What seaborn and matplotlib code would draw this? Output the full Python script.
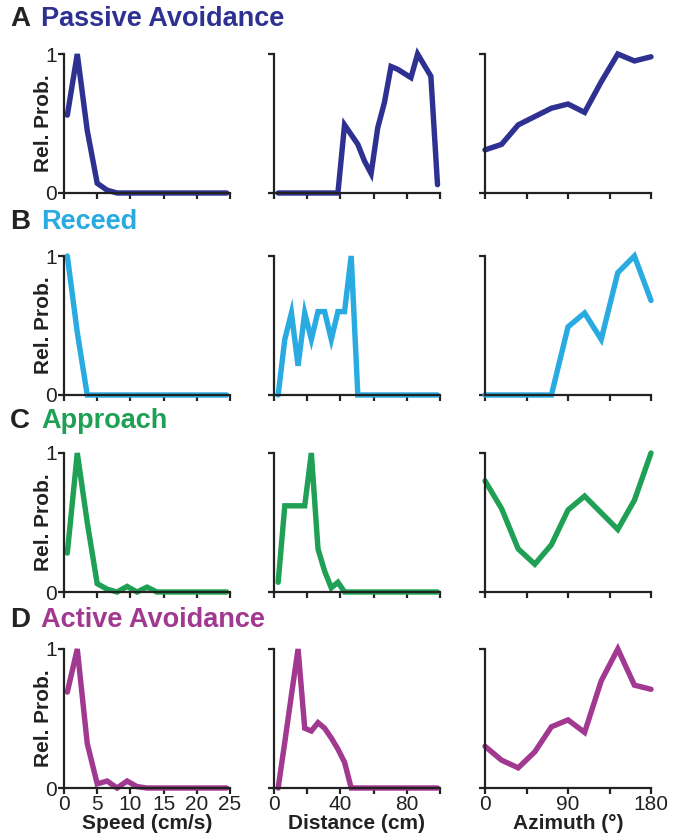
import numpy as np
import seaborn as sns
import matplotlib.pyplot as plt

# bin centres
speed_bins = [0.5, 2.0, 3.5, 5.0, 6.5, 8.0, 9.5, 11.0, 12.5, 14.0, 15.5, 17.0, 18.5, 20.0, 21.5, 23.0, 24.5]
dist_bins = [2.5, 6.5, 10.5, 14.5, 18.5, 22.5, 26.5, 30.5, 34.5, 38.5, 42.5, 46.5, 50.5,
             54.5, 58.5, 62.5, 66.5, 70.5, 74.5, 78.5, 82.5, 86.5, 90.5, 94.5, 98.5]
azim_bins = [0, 18, 36, 54, 72, 90, 108, 126, 144, 162, 180]

# A - Passive Avoidance
passive_speed = [0.56, 1.0, 0.45, 0.07, 0.02, 0, 0, 0, 0, 0, 0, 0, 0, 0, 0, 0, 0]
passive_dist = [0, 0, 0, 0, 0, 0, 0, 0, 0, 0, 0.49, 0.42, 0.35, 0.23, 0.14, 0.47,
                0.65, 0.91, 0.89, 0.86, 0.83, 1.0, 0.92, 0.84, 0.06]
passive_azim = [0.31, 0.35, 0.49, 0.55, 0.61, 0.64, 0.58, 0.80, 1.0, 0.95, 0.98]

# B - Receed
receed_speed = [1.0, 0.45, 0, 0, 0, 0, 0, 0, 0, 0, 0, 0, 0, 0, 0, 0, 0]
receed_dist = [0, 0.40, 0.59, 0.21, 0.59, 0.40, 0.60, 0.60, 0.40, 0.60, 0.60, 1.0, 0,
               0, 0, 0, 0, 0, 0, 0, 0, 0, 0, 0, 0]
receed_azim = [0, 0, 0, 0, 0, 0.49, 0.59, 0.40, 0.88, 1.0, 0.68]

# C - Approach
approach_speed = [0.28, 1.0, 0.5, 0.06, 0.02, 0, 0.04, 0, 0.035, 0, 0, 0, 0, 0, 0, 0, 0]
approach_dist = [0.07, 0.62, 0.62, 0.62, 0.62, 1.0, 0.31, 0.15, 0.03, 0.07, 0, 0, 0,
                 0, 0, 0, 0, 0, 0, 0, 0, 0, 0, 0, 0]
approach_azim = [0.80, 0.60, 0.31, 0.20, 0.34, 0.59, 0.69, 0.57, 0.45, 0.66, 1.0]

# D - Active Avoidance
active_speed = [0.69, 1.0, 0.32, 0.03, 0.05, 0, 0.05, 0.01, 0, 0, 0, 0, 0, 0, 0, 0, 0]
active_dist = [0, 0.33, 0.67, 1.0, 0.43, 0.41, 0.47, 0.43, 0.36, 0.28, 0.185, 0, 0,
               0, 0, 0, 0, 0, 0, 0, 0, 0, 0, 0, 0]
active_azim = [0.30, 0.20, 0.145, 0.26, 0.44, 0.49, 0.40, 0.77, 1.0, 0.74, 0.71]

letters = ['A', 'B', 'C', 'D']
titles = ['Passive Avoidance', 'Receed', 'Approach', 'Active Avoidance']
colors = ['#2e3192', '#29abe2', '#1fa055', '#a0398f']
rows = [
    [passive_speed, passive_dist, passive_azim],
    [receed_speed, receed_dist, receed_azim],
    [approach_speed, approach_dist, approach_azim],
    [active_speed, active_dist, active_azim],
]
xbins = [speed_bins, dist_bins, azim_bins]
xlims = [(0, 25), (0, 100), (0, 180)]
xticks = [[0, 5, 10, 15, 20, 25], [0, 20, 40, 60, 80, 100], [0, 45, 90, 135, 180]]
xticklabels = [['0', '5', '10', '15', '20', '25'], ['0', '', '40', '', '80', ''],
               ['0', '', '90', '', '180']]
xlabels = ['Speed (cm/s)', 'Distance (cm)', 'Azimuth (°)']

sns.set_style('ticks')
plt.rcParams['font.family'] = ['Liberation Sans', 'DejaVu Sans']

W, H = 674, 839
fig = plt.figure(figsize=(W / 100, H / 100), dpi=100)

col_left = [64, 274, 485]
col_w = 166
row_bottom = [193, 395, 592, 788]
row_h = 139
letter_y = [19, 222, 421, 620]
ink = '#222222'

for r in range(4):
    fig.text(10 / W, 1 - letter_y[r] / H, letters[r], fontsize=20, fontweight='bold',
             color=ink, va='center', ha='left')
    fig.text(41 / W, 1 - letter_y[r] / H, titles[r], fontsize=19.5, fontweight='bold',
             color=colors[r], va='center', ha='left')
    for c in range(3):
        ax = fig.add_axes([col_left[c] / W, 1 - row_bottom[r] / H, col_w / W, row_h / H])
        sns.lineplot(x=xbins[c], y=rows[r][c], ax=ax, color=colors[r], linewidth=3.9)
        for ln in ax.lines:
            ln.set_clip_on(False)
            ln.set_solid_joinstyle('miter')
        ax.set_xlim(*xlims[c])
        ax.set_ylim(0, 1)
        sns.despine(ax=ax)
        for s in ['left', 'bottom']:
            ax.spines[s].set_linewidth(1.6)
            ax.spines[s].set_color(ink)
        ax.tick_params(width=1.6, length=4, color=ink, labelcolor=ink, labelsize=15, pad=1)
        ax.set_xticks(xticks[c])
        if r == 3:
            ax.set_xticklabels(xticklabels[c])
            ax.set_xlabel(xlabels[c], fontsize=15, fontweight='bold', color=ink, labelpad=0)
        else:
            ax.set_xticklabels([])
        ax.set_yticks([0, 1])
        if c == 0:
            ax.set_yticklabels(['0', '1'])
            ax.set_ylabel('Rel. Prob.', fontsize=15, fontweight='bold', color=ink)
            ax.yaxis.set_label_coords(-0.066, 0.5)
        else:
            ax.set_yticklabels([])
        ax.set_facecolor('none')

fig.savefig('out.png', dpi=100, facecolor='white')
